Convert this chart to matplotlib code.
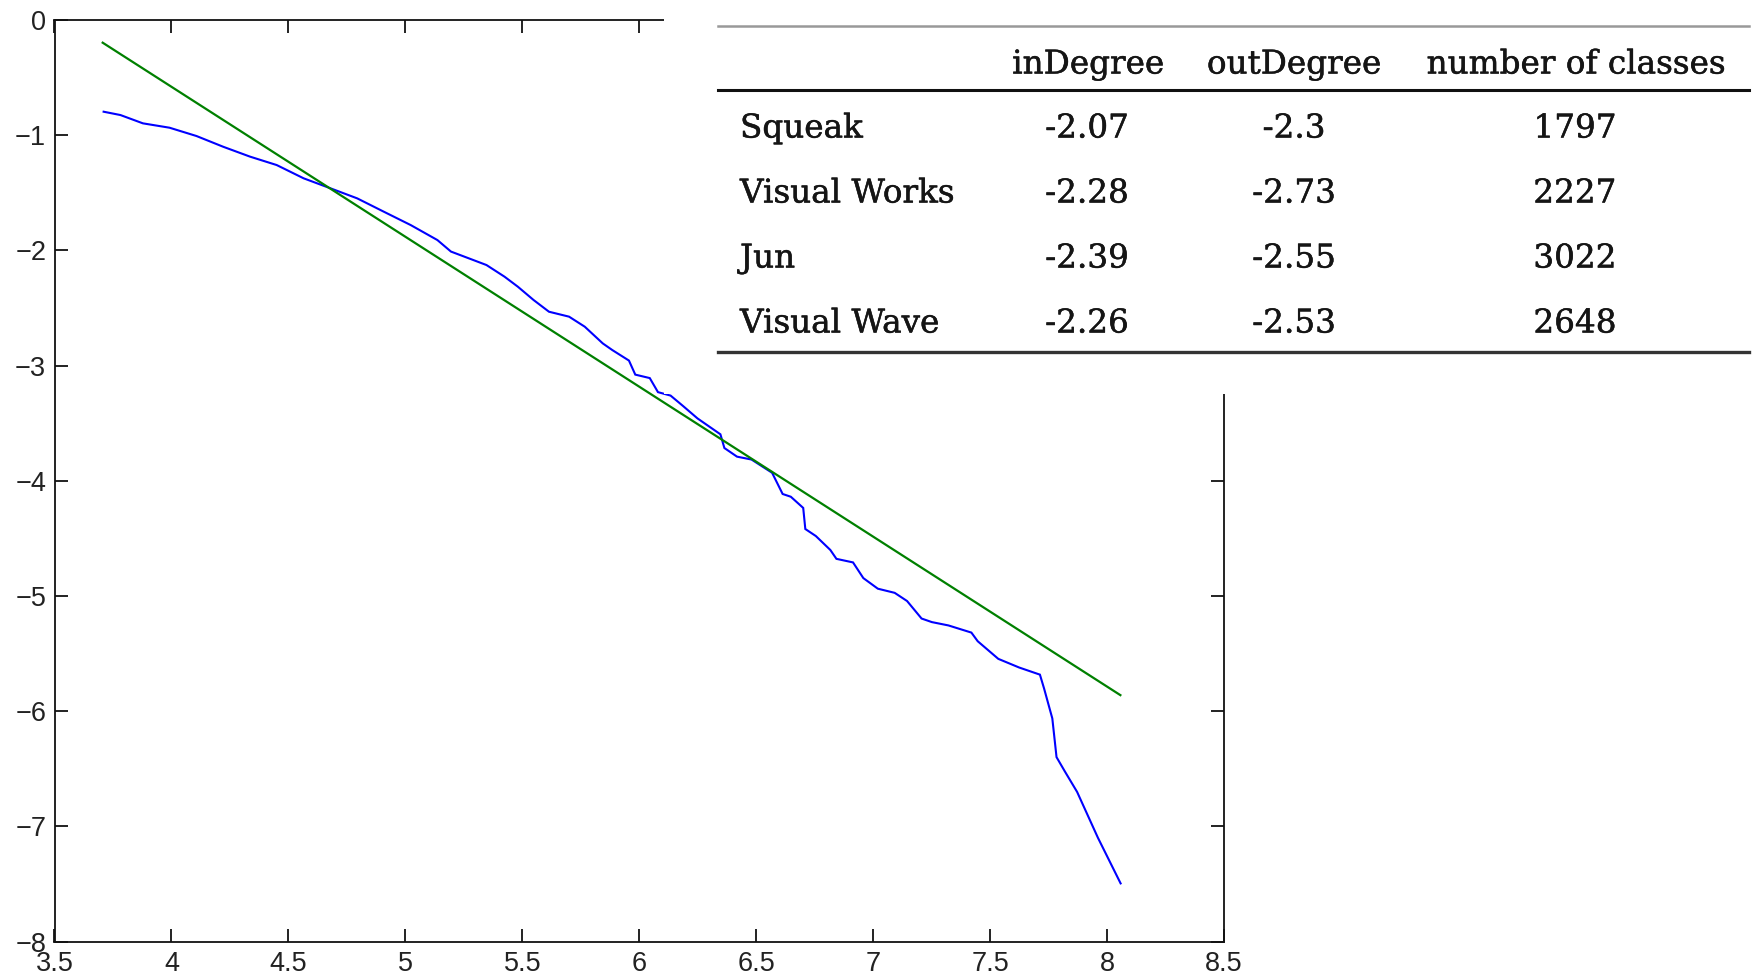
import matplotlib
matplotlib.use("Agg")
import matplotlib.pyplot as plt
import matplotlib.patheffects as pe
from matplotlib.patches import Rectangle
from matplotlib.lines import Line2D

# ---- data ----
fit_x = [3.706, 8.057]
fit_y = [-0.197, -5.86]

curve_x = [3.71, 3.782, 3.878, 3.992, 4.107, 4.221, 4.336, 4.45, 4.565, 4.68,
           4.794, 4.908, 5.023, 5.137, 5.195, 5.29, 5.347, 5.424, 5.481, 5.548,
           5.614, 5.7, 5.767, 5.844, 5.885, 5.956, 5.983, 6.045, 6.08, 6.134,
           6.187, 6.249, 6.347, 6.364, 6.418, 6.48, 6.568, 6.613, 6.648, 6.701,
           6.71, 6.755, 6.817, 6.843, 6.914, 6.958, 7.02, 7.092, 7.145, 7.207,
           7.251, 7.322, 7.42, 7.447, 7.535, 7.624, 7.713, 7.731, 7.766, 7.784,
           7.819, 7.872, 7.961, 8.058]
curve_y = [-0.796, -0.825, -0.897, -0.935, -1.007, -1.1, -1.186, -1.259, -1.374, -1.461,
           -1.548, -1.664, -1.78, -1.91, -2.01, -2.083, -2.127, -2.228, -2.315, -2.43,
           -2.532, -2.575, -2.662, -2.807, -2.865, -2.956, -3.078, -3.108, -3.23, -3.26,
           -3.35, -3.458, -3.596, -3.715, -3.79, -3.815, -3.93, -4.114, -4.138, -4.235,
           -4.418, -4.479, -4.6, -4.677, -4.708, -4.844, -4.936, -4.972, -5.043, -5.195,
           -5.226, -5.255, -5.317, -5.392, -5.545, -5.62, -5.682, -5.804, -6.062, -6.398,
           -6.52, -6.70, -7.098, -7.494]

x_ticks = [3.5, 4, 4.5, 5, 5.5, 6, 6.5, 7, 7.5, 8, 8.5]
x_tick_labels = ["3.5", "4", "4.5", "5", "5.5", "6", "6.5", "7", "7.5", "8", "8.5"]
y_ticks = [0, -1, -2, -3, -4, -5, -6, -7, -8]

table_header = ["inDegree", "outDegree", "number of classes"]
table_rows = ["Squeak", "Visual Works", "Jun", "Visual Wave"]
in_degree = ["-2.07", "-2.28", "-2.39", "-2.26"]
out_degree = ["-2.3", "-2.73", "-2.55", "-2.53"]
num_classes = ["1797", "2227", "3022", "2648"]

# ---- figure ----
W, H = 1755, 976
fig = plt.figure(figsize=(W / 100, H / 100), dpi=100)
ax = fig.add_axes([54.5 / W, 1 - 941.7 / H, (1224 - 54.5) / W, (941.7 - 20) / H])

ax.plot(curve_x, curve_y, color=(0, 0, 1), lw=1.5, solid_joinstyle="miter")
ax.plot(fit_x, fit_y, color=(0, 0.5, 0), lw=1.6)

ax.set_xlim(3.5, 8.5)
ax.set_ylim(-8, 0)
ax.set_xticks(x_ticks)
ax.set_xticklabels(x_tick_labels)
ax.set_yticks(y_ticks)
for s in ax.spines.values():
    s.set_linewidth(1.3)
    s.set_color("#111111")
ax.tick_params(direction="in", length=9.5, width=1.3, top=True, right=True,
               labelsize=19.5, color="#111111", labelcolor="#222222")
ax.tick_params(axis="x", pad=7)
ax.tick_params(axis="y", pad=6)
for lab in ax.get_xticklabels() + ax.get_yticklabels():
    lab.set_family(["Liberation Sans", "DejaVu Sans"])

# ---- table overlay ----
def fx(px):
    return px / W

def fy(py):
    return 1 - py / H

fig.patches.append(Rectangle((fx(664), fy(394)), fx(W) - fx(664), 1 - fy(394),
                             transform=fig.transFigure, facecolor="white",
                             edgecolor="none", zorder=10))

x0, x1 = fx(717.7), fx(1749)
fig.add_artist(Line2D([x0, x1], [fy(25.7), fy(25.7)], transform=fig.transFigure,
                      color="#999999", lw=1.8, zorder=11))
fig.add_artist(Line2D([x0, x1], [fy(90), fy(90)], transform=fig.transFigure,
                      color="#111111", lw=2.2, zorder=11))
fig.add_artist(Line2D([x0, x1], [fy(351.7), fy(351.7)], transform=fig.transFigure,
                      color="#333333", lw=2.4, zorder=11))

stroke = [pe.withStroke(linewidth=0.35, foreground="#151515")]
tfont = dict(family="DejaVu Serif", fontsize=23.5, color="#151515", zorder=12,
             transform=fig.transFigure, va="baseline", path_effects=stroke)
col_x = [1088, 1294, 1576]
for cx, h in zip(col_x, table_header):
    fig.text(fx(cx), fy(73.5), h, ha="center", **tfont)

row_base = [137.5, 202.5, 267.5, 332.5]
for i, name in enumerate(table_rows):
    y = fy(row_base[i])
    fig.text(fx(740), y, name, ha="left", **tfont)
    fig.text(fx(1087), y, in_degree[i], ha="center", **tfont)
    fig.text(fx(1294), y, out_degree[i], ha="center", **tfont)
    fig.text(fx(1575), y, num_classes[i], ha="center", **tfont)

fig.savefig("out.png", dpi=100)
